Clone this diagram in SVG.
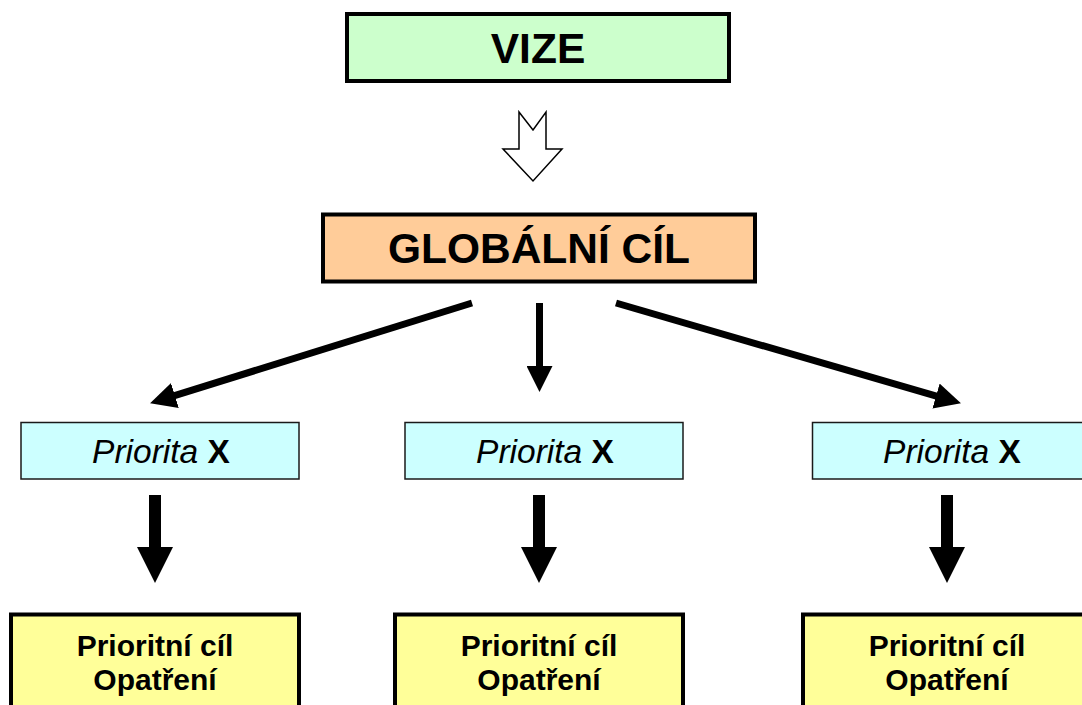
<svg xmlns="http://www.w3.org/2000/svg" width="1082" height="705" viewBox="0 0 1082 705">
<style>
text{font-family:"Liberation Sans",Arial,sans-serif;fill:#000;text-anchor:middle}
.big{font-size:42.5px;font-weight:bold}
.pri{font-size:33.5px}
.goal{font-size:30px;font-weight:bold}
.thick{stroke:#000;stroke-width:4}
.thin{stroke:#1a1a1a;stroke-width:1.5}
.conn{stroke:#000;stroke-width:7;fill:none}
</style>
<defs>
<marker id="head" markerUnits="userSpaceOnUse" markerWidth="26" markerHeight="26" viewBox="0 0 24 24" refX="12" refY="12" orient="auto">
<path d="M0,0 L24,12 L0,24 z" fill="#000"/>
</marker>
<path id="bigarrow" d="M-6,0 L6,0 L6,52 L18,52 L0,88 L-18,52 L-6,52 z" fill="#000"/>
</defs>
<rect width="1082" height="705" fill="#fff"/>

<g id="vize">
<rect class="thick" x="347" y="14" width="382" height="67" fill="#CCFFCC"/>
<text class="big" x="538" y="63">VIZE</text>
</g>

<g id="global">
<rect class="thick" x="323" y="214.5" width="432" height="67" fill="#FFCC99"/>
<text class="big" x="539" y="263">GLOBÁLNÍ CÍL</text>
</g>

<g id="priorita1">
<rect class="thin" x="21" y="422.5" width="278" height="56.5" fill="#CCFFFF"/>
<text class="pri" x="161" y="463"><tspan font-style="italic">Priorita</tspan> <tspan font-weight="bold">X</tspan></text>
</g>
<g id="priorita2">
<rect class="thin" x="405" y="422.5" width="278" height="56.5" fill="#CCFFFF"/>
<text class="pri" x="545" y="463"><tspan font-style="italic">Priorita</tspan> <tspan font-weight="bold">X</tspan></text>
</g>
<g id="priorita3">
<rect class="thin" x="812.5" y="422.5" width="278" height="56.5" fill="#CCFFFF"/>
<text class="pri" x="952" y="463"><tspan font-style="italic">Priorita</tspan> <tspan font-weight="bold">X</tspan></text>
</g>

<g id="cil1">
<rect class="thick" x="11" y="614.5" width="288" height="130" fill="#FFFF99"/>
<text class="goal" x="155" y="656">Prioritní cíl</text>
<text class="goal" x="155" y="690">Opatření</text>
</g>
<g id="cil2">
<rect class="thick" x="395" y="614.5" width="288" height="130" fill="#FFFF99"/>
<text class="goal" x="539" y="656">Prioritní cíl</text>
<text class="goal" x="539" y="690">Opatření</text>
</g>
<g id="cil3">
<rect class="thick" x="803" y="614.5" width="288" height="130" fill="#FFFF99"/>
<text class="goal" x="947" y="656">Prioritní cíl</text>
<text class="goal" x="947" y="690">Opatření</text>
</g>

<g id="connectors">
<polygon points="519,112 533,130 546,112 546,149 562,149 533,181 503,149 519,149" fill="#fff" stroke="#000" stroke-width="1.5" stroke-linejoin="miter"/>
<line class="conn" x1="472" y1="303" x2="162.5" y2="399.4" marker-end="url(#head)"/>
<line class="conn" x1="539.5" y1="303" x2="539.5" y2="379" marker-end="url(#head)"/>
<line class="conn" x1="616" y1="303" x2="948.5" y2="399.7" marker-end="url(#head)"/>
<use href="#bigarrow" x="155" y="495"/>
<use href="#bigarrow" x="539" y="495"/>
<use href="#bigarrow" x="947" y="495"/>
</g>
</svg>
